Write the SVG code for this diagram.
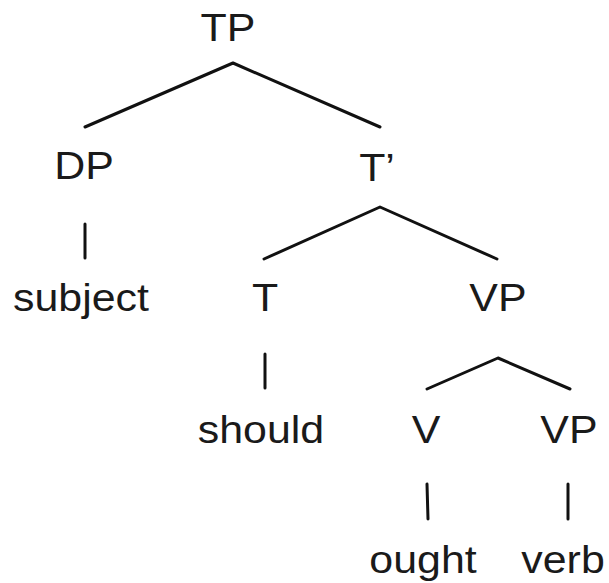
<svg xmlns="http://www.w3.org/2000/svg" width="609" height="583" viewBox="0 0 609 583">
<style>
.lbl{font-family:"Liberation Sans",Arial,sans-serif;font-size:38px;fill:#1a1a1a;text-anchor:middle}
.edge{stroke:#111;stroke-width:3;fill:none;stroke-linecap:round;stroke-linejoin:round}
</style>
<rect width="609" height="583" fill="#fff"/>
<g id="connectors">
<polyline class="edge" points="85,127 233,63 380,127"/>
<line class="edge" x1="85" y1="224" x2="85" y2="258"/>
<polyline class="edge" points="264,259 380,207 497,259"/>
<line class="edge" x1="265" y1="354" x2="265" y2="388"/>
<polyline class="edge" points="427,389 498,358 570,389"/>
<line class="edge" x1="427" y1="484" x2="428" y2="519"/>
<line class="edge" x1="568" y1="484" x2="568" y2="519"/>
</g>
<g id="TP" transform="translate(228,41) scale(1.13,1)"><text class="lbl">TP</text></g>
<g id="DP" transform="translate(84,179) scale(1.13,1)"><text class="lbl">DP</text></g>
<g id="Tbar" transform="translate(377,181) scale(1.13,1)"><text class="lbl">T’</text></g>
<g id="subject" transform="translate(81,311) scale(1.13,1)"><text class="lbl">subject</text></g>
<g id="T" transform="translate(265,311) scale(1.13,1)"><text class="lbl">T</text></g>
<g id="VP1" transform="translate(498,311) scale(1.13,1)"><text class="lbl">VP</text></g>
<g id="should" transform="translate(261,443) scale(1.13,1)"><text class="lbl">should</text></g>
<g id="V" transform="translate(426,443) scale(1.13,1)"><text class="lbl">V</text></g>
<g id="VP2" transform="translate(569,443) scale(1.13,1)"><text class="lbl">VP</text></g>
<g id="ought" transform="translate(423,573) scale(1.13,1)"><text class="lbl">ought</text></g>
<g id="verb" transform="translate(563,573) scale(1.13,1)"><text class="lbl">verb</text></g>
</svg>
